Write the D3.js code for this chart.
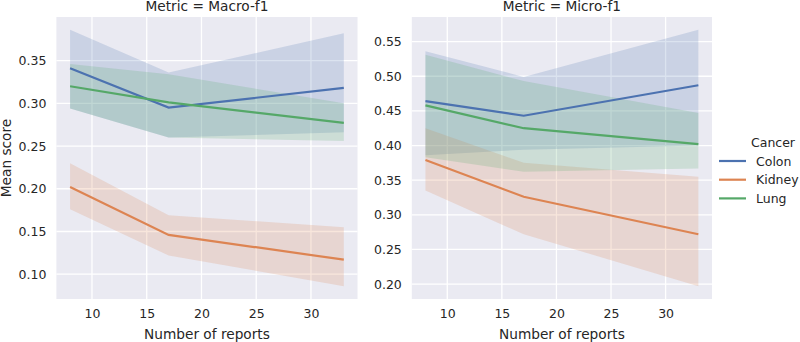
<!DOCTYPE html>
<html>
<head>
<meta charset="utf-8">
<script src="https://cdn.jsdelivr.net/npm/d3@7"></script>
<style>
  body { margin: 0; background: #fff; }
  svg text { font-family: "DejaVu Sans", sans-serif; fill: #262626; }
</style>
</head>
<body>
<svg width="800" height="342"></svg>
<script>
// number of reports (x values)
const reports = [8, 17, 33];
const cancers = ["Colon", "Kidney", "Lung"];
const colors = ["#4c72b0", "#dd8452", "#55a868"];
const xTicks = [10, 15, 20, 25, 30];

// Metric = Macro-f1
const macroMean = [[0.341, 0.295, 0.318], [0.202, 0.146, 0.117], [0.320, 0.301, 0.277]];
const macroLow  = [[0.294, 0.260, 0.266], [0.176, 0.122, 0.086], [0.294, 0.260, 0.256]];
const macroHigh = [[0.386, 0.336, 0.382], [0.230, 0.169, 0.155], [0.346, 0.334, 0.300]];
const macroTicks = [0.10, 0.15, 0.20, 0.25, 0.30, 0.35];

// Metric = Micro-f1
const microMean = [[0.464, 0.443, 0.487], [0.379, 0.326, 0.272], [0.458, 0.425, 0.402]];
const microLow  = [[0.386, 0.394, 0.400], [0.335, 0.272, 0.197], [0.383, 0.362, 0.367]];
const microHigh = [[0.536, 0.499, 0.567], [0.425, 0.375, 0.355], [0.531, 0.493, 0.447]];
const microTicks = [0.20, 0.25, 0.30, 0.35, 0.40, 0.45, 0.50, 0.55];

const svg = d3.select("svg");
const plotTop = 17, plotBottom = 299;

function drawPanel(left, right, title, mean, low, high, yTicks, showYLabel) {
    const x = d3.scaleLinear()
        .domain([reports[0] - 1.25, reports[2] + 1.25])
        .range([left, right]);
    const allVals = low.flat().concat(high.flat());
    const [mn, mx] = d3.extent(allVals);
    const pad = (mx - mn) * 0.05;
    const y = d3.scaleLinear()
        .domain([mn - pad, mx + pad])
        .range([plotBottom, plotTop]);

    const g = svg.append("g");
    g.append("rect")
        .attr("x", left).attr("y", plotTop)
        .attr("width", right - left).attr("height", plotBottom - plotTop)
        .attr("fill", "#eaeaf2");

    // grid
    g.selectAll(".gx").data(xTicks).enter().append("line")
        .attr("x1", d => x(d)).attr("x2", d => x(d))
        .attr("y1", plotTop).attr("y2", plotBottom)
        .attr("stroke", "#fff").attr("stroke-width", 1.3);
    g.selectAll(".gy").data(yTicks).enter().append("line")
        .attr("x1", left).attr("x2", right)
        .attr("y1", d => y(d)).attr("y2", d => y(d))
        .attr("stroke", "#fff").attr("stroke-width", 1.3);

    // axes
    const xAxis = g.append("g")
        .attr("transform", `translate(0,${plotBottom})`)
        .call(d3.axisBottom(x).tickValues(xTicks).tickSize(0).tickPadding(10).tickFormat(d3.format("d")));
    const yAxis = g.append("g")
        .attr("transform", `translate(${left},0)`)
        .call(d3.axisLeft(y).tickValues(yTicks).tickSize(0).tickPadding(10).tickFormat(d3.format(".2f")));
    [xAxis, yAxis].forEach(a => {
        a.select(".domain").remove();
        a.selectAll("text").style("font-size", "12.5px").attr("fill", "#262626");
    });

    // confidence bands
    const area = d3.area()
        .x((d, i) => x(reports[i]))
        .y0(d => y(d[0]))
        .y1(d => y(d[1]));
    cancers.forEach((c, k) => {
        const band = low[k].map((v, i) => [v, high[k][i]]);
        g.append("path")
            .datum(band)
            .attr("d", area)
            .attr("fill", colors[k])
            .attr("fill-opacity", 0.2);
    });

    // mean lines
    const line = d3.line()
        .x((d, i) => x(reports[i]))
        .y(d => y(d));
    cancers.forEach((c, k) => {
        g.append("path")
            .datum(mean[k])
            .attr("d", line)
            .attr("fill", "none")
            .attr("stroke", colors[k])
            .attr("stroke-width", 2.2);
    });

    g.append("text")
        .attr("x", (left + right) / 2).attr("y", 11)
        .attr("text-anchor", "middle")
        .style("font-size", "13.7px")
        .text(title);

    g.append("text")
        .attr("x", (left + right) / 2).attr("y", 339)
        .attr("text-anchor", "middle")
        .style("font-size", "13.7px")
        .text("Number of reports");

    if (showYLabel) {
        g.append("text")
            .attr("transform", `translate(10.5,${(plotTop + plotBottom) / 2}) rotate(-90)`)
            .attr("text-anchor", "middle")
            .style("font-size", "13.7px")
            .text("Mean score");
    }
}

drawPanel(56.4, 357.5, "Metric = Macro-f1", macroMean, macroLow, macroHigh, macroTicks, true);
drawPanel(411.8, 712, "Metric = Micro-f1", microMean, microLow, microHigh, microTicks, false);

// legend
const legend = svg.append("g").attr("transform", "translate(719,147)");
legend.append("text")
    .attr("x", 32).attr("y", 0)
    .style("font-size", "12.5px")
    .text("Cancer");
cancers.forEach((c, k) => {
    const row = legend.append("g").attr("transform", `translate(0,${14 + k * 18.7})`);
    row.append("line")
        .attr("x1", 0).attr("x2", 27)
        .attr("stroke", colors[k]).attr("stroke-width", 2.2);
    row.append("text")
        .attr("x", 37).attr("y", 4.5)
        .style("font-size", "12.5px")
        .text(c);
});
</script>
</body>
</html>
